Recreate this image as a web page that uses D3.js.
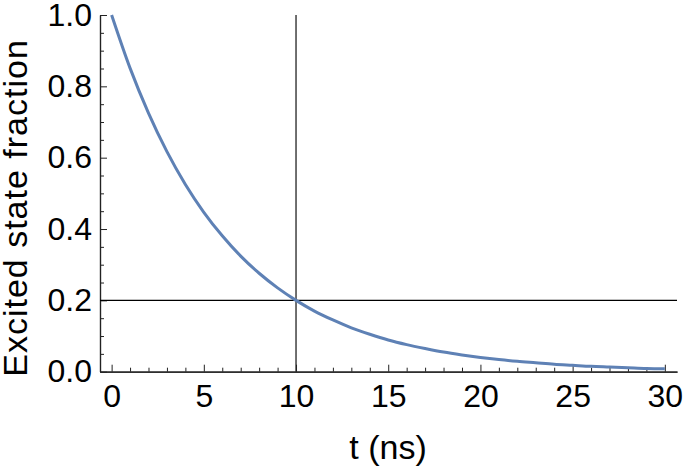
<!DOCTYPE html>
<html>
<head>
<meta charset="utf-8">
<script src="https://cdn.jsdelivr.net/npm/d3@7"></script>
<style>
  body { margin: 0; background: #fff; }
  svg { display: block; font-family: "Liberation Sans", Arial, sans-serif; }
  .tick text { font-size: 32px; fill: #000; font-family: "Liberation Sans", Arial, sans-serif; }
  .axis path, .axis line { stroke: #222; }
</style>
</head>
<body>
<svg id="chart" width="684" height="467"></svg>
<script>
// time in ns and excited state fraction
const times = [0, 1, 2, 3, 4, 5, 6, 7, 8, 9, 10, 11, 12, 13, 14, 15,
               16, 17, 18, 19, 20, 21, 22, 23, 24, 25, 26, 27, 28, 29, 30];
const fraction = [1.000, 0.851, 0.725, 0.617, 0.525, 0.447, 0.381, 0.324, 0.276, 0.235,
                  0.200, 0.170, 0.145, 0.123, 0.105, 0.089, 0.076, 0.065, 0.055, 0.047,
                  0.040, 0.034, 0.029, 0.025, 0.021, 0.018, 0.015, 0.013, 0.011, 0.009, 0.008];

const xTicks = [0, 5, 10, 15, 20, 25, 30];
const yTicks = [0.0, 0.2, 0.4, 0.6, 0.8, 1.0];

// marker lines
const markT = 10;
const markFrac = 0.2;

const svg = d3.select("#chart");

const x = d3.scaleLinear().domain([-0.63, 30.66]).range([100, 677]);
const y = d3.scaleLinear().domain([0, 1]).range([371.7, 15]);

// minor ticks
const xMinor = d3.range(0, 31, 1).filter(v => v % 5 !== 0);
const yMinor = d3.range(0, 21).map(i => i * 0.05).filter((v, i) => i % 4 !== 0);

svg.append("g")
    .attr("class", "axis")
    .attr("transform", `translate(0,${y(0)})`)
    .call(d3.axisBottom(x).tickValues(xMinor).tickSize(-4).tickSizeOuter(0).tickFormat(""));

svg.append("g")
    .attr("class", "axis")
    .attr("transform", `translate(0,${y(0)})`)
    .call(d3.axisBottom(x).tickValues(xTicks).tickSize(-7).tickSizeOuter(0)
        .tickPadding(13).tickFormat(d3.format("d")));

svg.append("g")
    .attr("class", "axis")
    .attr("transform", `translate(${x.range()[0]},0)`)
    .call(d3.axisLeft(y).tickValues(yMinor).tickSize(-4).tickSizeOuter(0).tickFormat(""));

svg.append("g")
    .attr("class", "axis")
    .attr("transform", `translate(${x.range()[0]},0)`)
    .call(d3.axisLeft(y).tickValues(yTicks).tickSize(-7).tickSizeOuter(0)
        .tickPadding(8).tickFormat(d3.format(".1f")));

svg.selectAll(".axis .domain").attr("stroke-width", 1.2);

// guide lines
svg.append("line")
    .attr("x1", x.range()[0]).attr("x2", x.range()[1])
    .attr("y1", y(markFrac)).attr("y2", y(markFrac))
    .attr("stroke", "#000").attr("stroke-width", 1.3);

svg.append("line")
    .attr("x1", x(markT)).attr("x2", x(markT))
    .attr("y1", y(0)).attr("y2", y(1))
    .attr("stroke", "#222").attr("stroke-width", 1.3);

// decay curve
const line = d3.line()
    .x((d, i) => x(times[i]))
    .y(d => y(d))
    .curve(d3.curveMonotoneX);

svg.append("path")
    .datum(fraction)
    .attr("fill", "none")
    .attr("stroke", "#5E81B5")
    .attr("stroke-width", 3)
    .attr("d", line);

// axis titles
svg.append("text")
    .attr("x", 388)
    .attr("y", 459)
    .attr("text-anchor", "middle")
    .style("font-size", "34px")
    .text("t (ns)");

svg.append("text")
    .attr("transform", "translate(27,208) rotate(-90)")
    .attr("text-anchor", "middle")
    .style("font-size", "34px")
    .style("letter-spacing", "1px")
    .text("Excited state fraction");
</script>
</body>
</html>
